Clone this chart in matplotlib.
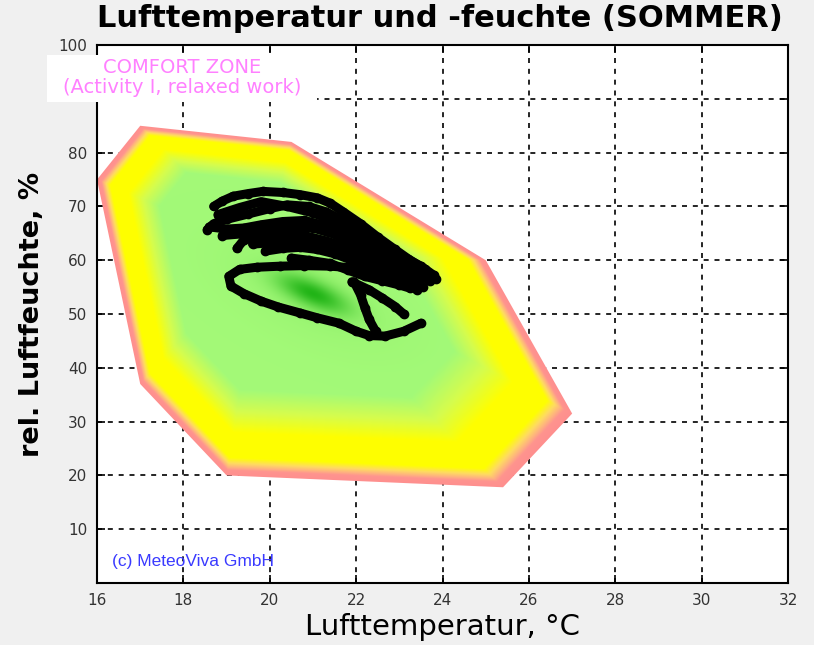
import numpy as np
import matplotlib.pyplot as plt
from matplotlib.patches import Polygon, Rectangle

# comfort zone outline (Lufttemperatur, rel. Feuchte)
zone_t = [16.0, 17.0, 20.5, 25.0, 27.0, 25.4, 19.0, 17.0]
zone_h = [75.0, 85.0, 82.0, 60.0, 31.5, 17.8, 20.0, 37.0]

# measured points (several runs)
run1_t = [18.7, 18.9, 19.15, 19.5, 19.84, 20.3, 20.7, 21.1, 21.4, 21.7, 22.1, 22.5, 22.9, 23.2, 23.6, 23.85]
run1_h = [70.0, 71.0, 71.9, 72.4, 72.8, 72.6, 72.2, 71.6, 70.6, 69.0, 66.8, 64.3, 62.0, 60.3, 58.3, 56.5]
runa_t = [18.8, 19.3, 19.8, 20.4, 21.0, 21.5, 22.0, 22.5, 23.0, 23.5, 23.8]
runa_h = [68.5, 69.8, 70.9, 70.0, 68.8, 67.2, 65.0, 62.6, 60.2, 58.2, 56.8]
run2_t = [18.55, 18.7, 19.0, 19.5, 20.0, 20.4, 20.9, 21.3, 21.7, 22.2, 22.7, 23.1, 23.5, 23.8]
run2_h = [65.7, 66.8, 67.6, 68.6, 69.6, 70.3, 70.0, 69.0, 67.4, 65.2, 62.6, 60.6, 58.9, 57.2]
run3_t = [18.6, 19.0, 19.4, 19.8, 20.3, 20.8, 21.3, 21.8, 22.3, 22.8, 23.3, 23.7]
run3_h = [66.2, 65.8, 66.0, 66.6, 67.2, 67.4, 66.4, 64.6, 62.3, 60.2, 58.0, 56.2]
runb_t = [18.9, 19.5, 20.0, 20.5, 21.0, 21.5, 22.0, 22.5, 23.0, 23.4]
runb_h = [64.6, 65.0, 65.5, 66.2, 66.0, 64.8, 63.0, 61.0, 59.0, 57.2]
run4_t = [19.24, 19.4, 19.8, 20.3, 20.8, 21.3, 21.8, 22.3, 22.8, 23.2, 23.55]
run4_h = [62.2, 63.8, 64.6, 65.0, 64.6, 63.6, 62.4, 60.8, 59.2, 57.6, 55.0]
runc_t = [19.6, 20.1, 20.6, 21.0, 21.5, 22.0, 22.5, 23.0, 23.4]
runc_h = [63.0, 63.3, 63.6, 63.0, 62.3, 61.0, 59.6, 58.0, 56.4]
run5_t = [19.9, 20.3, 20.7, 21.1, 21.5, 21.9, 22.3, 22.7, 23.1, 23.4]
run5_h = [61.7, 62.2, 62.4, 62.0, 61.2, 60.0, 58.6, 57.4, 56.0, 54.5]
run6_t = [20.5, 20.9, 21.4, 21.8, 22.2, 22.6, 23.0, 23.25]
run6_h = [60.4, 60.0, 59.4, 58.2, 57.0, 56.2, 55.4, 54.8]
run7_t = [23.0, 22.6, 22.3, 21.9, 21.4, 20.8, 20.24, 19.7, 19.3, 19.05, 19.1, 19.4, 19.8,
          20.2, 20.7, 21.1, 21.6, 22.0, 22.3, 22.67, 23.1, 23.5]
run7_h = [56.1, 57.2, 58.0, 58.6, 58.9, 59.0, 58.9, 58.7, 58.3, 57.0, 55.2, 53.8, 52.4,
          51.3, 50.2, 49.3, 48.3, 46.8, 46.0, 45.9, 46.8, 48.3]
run8_t = [21.95, 22.1, 22.2, 22.3, 22.45]
run8_h = [56.0, 53.6, 51.2, 49.0, 46.8]
run9_t = [21.9, 22.3, 22.6, 22.9, 23.1]
run9_h = [56.0, 54.5, 53.0, 51.4, 50.0]

runs = [(run1_t, run1_h), (runa_t, runa_h), (run2_t, run2_h), (run3_t, run3_h),
        (runb_t, runb_h), (run4_t, run4_h), (runc_t, runc_h), (run5_t, run5_h),
        (run6_t, run6_h), (run7_t, run7_h), (run8_t, run8_h), (run9_t, run9_h)]

xticks = [16, 18, 20, 22, 24, 26, 28, 30, 32]
yticks = [10, 20, 30, 40, 50, 60, 70, 80, 90, 100]
ylabels = ['10', '20', '30', '40', '50', '60', '70', '80', '', '100']  # 90 sits under the label box

fig = plt.figure(figsize=(8.14, 6.45), dpi=100, facecolor='#f0f0f0')
ax = fig.add_axes([0.1192, 0.0961, 0.849, 0.834])

# colour field inside the zone: nested shape around a centre point
cx, cy = 19.8, 62.0
vt = np.array(zone_t)
vh = np.array(zone_h)
gx = np.linspace(15.9, 27.2, 900)
gy = np.linspace(17.0, 86.0, 700)
X, Y = np.meshgrid(gx, gy)
S = np.zeros_like(X)
for i in range(len(vt)):
    a = np.array([vt[i], vh[i]])
    b = np.array([vt[(i + 1) % len(vt)], vh[(i + 1) % len(vh)]])
    d = b - a
    n = np.array([d[1], -d[0]])
    hh = n[0] * (a[0] - cx) + n[1] * (a[1] - cy)
    if hh < 0:
        n = -n
        hh = -hh
    S = np.maximum(S, (n[0] * (X - cx) + n[1] * (Y - cy)) / hh)

stops = [0.0, 0.62, 0.72, 0.81, 0.92, 0.945, 0.963, 0.975, 1.0]
red = [0.64, 0.64, 0.84, 1.0, 1.0, 1.0, 1.0, 1.0, 1.0]
grn = [0.98, 0.98, 0.99, 1.0, 1.0, 0.86, 0.70, 0.58, 0.56]
blu = [0.47, 0.47, 0.30, 0.0, 0.0, 0.38, 0.50, 0.56, 0.56]
rgb = np.dstack([np.interp(S, stops, red), np.interp(S, stops, grn), np.interp(S, stops, blu)])

# dark green core
px = (X - 21.0) * 43.2
py = (Y - 53.8) * 5.4
ang = np.deg2rad(-24)
u = px * np.cos(ang) + py * np.sin(ang)
v = -px * np.sin(ang) + py * np.cos(ang)
w = 0.9 * np.exp(-((u / 38) ** 2 + (v / 13) ** 2))
w2 = 0.25 * np.exp(-((u / 90) ** 2 + (v / 40) ** 2))
dark = np.array([0.08, 0.68, 0.05])
mid = np.array([0.45, 0.88, 0.35])
rgb = rgb * (1 - w2[..., None]) + mid * w2[..., None]
rgb = rgb * (1 - w[..., None]) + dark * w[..., None]

outline = Polygon(np.column_stack([vt, vh]), closed=True, facecolor='none', edgecolor='none')
ax.add_patch(outline)
im = ax.imshow(rgb, extent=[gx[0], gx[-1], gy[0], gy[-1]], origin='lower', aspect='auto',
               interpolation='bilinear', zorder=1)
im.set_clip_path(outline)
ax.set_xlim(16, 32)
ax.set_ylim(0, 100)

for t, h in runs:
    ax.plot(t, h, color='black', lw=6.5, marker='o', ms=6, solid_capstyle='round',
            solid_joinstyle='round', zorder=3)

ax.set_axisbelow(True)
ax.grid(True, color='black', linestyle=(0, (3, 3.5)), linewidth=1.2)
ax.set_xticks(xticks)
ax.set_yticks(yticks)
ax.set_yticklabels(ylabels)
ax.tick_params(direction='in', top=True, right=True, length=6, width=1.2,
               labelsize=11, labelcolor='#333333', pad=7)
for sp in ax.spines.values():
    sp.set_linewidth(1.5)

ax.set_xlabel('Lufttemperatur, °C', fontsize=21, labelpad=4)
ax.set_ylabel('rel. Luftfeuchte, %', fontsize=19.5, fontweight='bold', labelpad=10)

fig.text(0.54, 0.972, 'Lufttemperatur und -feuchte (SOMMER)', fontsize=22,
         fontweight='bold', ha='center', va='center')

ax.text(16.35, 4.0, '(c) MeteoViva GmbH', color='#3a3aff', fontsize=12.5,
        family=['Liberation Sans Narrow', 'Liberation Sans', 'DejaVu Sans'], va='center', zorder=4)

fig.add_artist(Rectangle((0.0577, 0.8419), 0.3317, 0.0729, transform=fig.transFigure,
                         facecolor='white', edgecolor='none', zorder=5))
fig.text(0.2236, 0.8946, 'COMFORT ZONE', color='#ff80ff', fontsize=14,
         ha='center', va='center', zorder=6)
fig.text(0.2236, 0.8636, '(Activity I, relaxed work)', color='#ff80ff', fontsize=14,
         ha='center', va='center', zorder=6)

fig.savefig('out.png', dpi=100, facecolor=fig.get_facecolor())
